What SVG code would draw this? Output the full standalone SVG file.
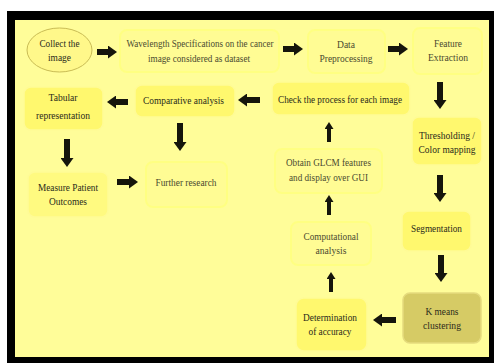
<svg xmlns="http://www.w3.org/2000/svg" width="494" height="363" viewBox="0 0 494 363">
<defs>
<style>
text{font-family:"Liberation Serif","Times New Roman",serif;font-size:11px;text-anchor:middle;fill:#2a2a1a;}
.pt{fill:#4a4a30;}
.bright{fill:#FFF86E;stroke:#FFFB96;stroke-width:1.5;}
.pale{fill:#FFFC94;stroke:#FFFF82;stroke-width:2;}
.km{fill:#D6CB65;stroke:#E6DC7E;stroke-width:1.5;}
.arr{stroke:#15150c;stroke-width:6;fill:none;}
.arrs{stroke:#15150c;stroke-width:4;fill:none;}
</style>
<marker id="ah" markerUnits="userSpaceOnUse" markerWidth="9" markerHeight="13" refX="0" refY="6.5" orient="auto">
<path d="M0,0 L9,6.5 L0,13 Z" fill="#15150c"/>
</marker>
<marker id="ahs" markerUnits="userSpaceOnUse" markerWidth="7" markerHeight="9" refX="0" refY="4.5" orient="auto">
<path d="M0,0 L7,4.5 L0,9 Z" fill="#15150c"/>
</marker>
</defs>
<rect x="0" y="0" width="494" height="363" fill="#ffffff"/>
<rect x="7" y="11" width="487" height="352" fill="#000000"/>
<rect x="15" y="20" width="474" height="337" fill="#FFFD99"/>

<g id="n-collect">
<ellipse cx="59.5" cy="50" rx="32.5" ry="22" fill="#FFF88A" stroke="#C9BC55" stroke-width="1"/>
<text x="59.5" y="47" textLength="40" lengthAdjust="spacingAndGlyphs">Collect the</text>
<text x="59.5" y="61" textLength="23" lengthAdjust="spacingAndGlyphs">image</text>
</g>
<g id="n-wavelength">
<rect class="pale" x="120" y="30" width="159" height="42" rx="7"/>
<text class="pt" x="200" y="47" textLength="147" lengthAdjust="spacingAndGlyphs">Wavelength Specifications on the cancer</text>
<text class="pt" x="199" y="62" textLength="102" lengthAdjust="spacingAndGlyphs">image considered as dataset</text>
</g>
<g id="n-preproc">
<rect class="pale" x="308" y="30" width="77" height="43" rx="7"/>
<text class="pt" x="346" y="48" textLength="18" lengthAdjust="spacingAndGlyphs">Data</text>
<text class="pt" x="346" y="62" textLength="53" lengthAdjust="spacingAndGlyphs">Preprocessing</text>
</g>
<g id="n-feature">
<rect class="pale" x="413" y="28" width="69" height="46" rx="7"/>
<text class="pt" x="448" y="47" textLength="28" lengthAdjust="spacingAndGlyphs">Feature</text>
<text class="pt" x="448" y="61" textLength="40" lengthAdjust="spacingAndGlyphs">Extraction</text>
</g>
<g id="n-threshold">
<rect class="bright" x="412" y="117" width="70" height="48" rx="7"/>
<text x="447" y="139" textLength="56" lengthAdjust="spacingAndGlyphs">Thresholding  /</text>
<text x="447" y="153" textLength="57" lengthAdjust="spacingAndGlyphs">Color mapping</text>
</g>
<g id="n-seg">
<rect class="bright" x="402" y="211" width="69" height="40" rx="7"/>
<text x="436.5" y="232" textLength="51" lengthAdjust="spacingAndGlyphs">Segmentation</text>
</g>
<g id="n-kmeans">
<rect class="km" x="403" y="293" width="78" height="50" rx="7"/>
<text x="442" y="315" textLength="33" lengthAdjust="spacingAndGlyphs">K means</text>
<text x="442" y="329" textLength="38" lengthAdjust="spacingAndGlyphs">clustering</text>
</g>
<g id="n-accuracy">
<rect class="bright" x="296" y="298" width="71" height="53" rx="8"/>
<text x="330" y="321" textLength="54" lengthAdjust="spacingAndGlyphs">Determination</text>
<text x="330" y="335" textLength="43" lengthAdjust="spacingAndGlyphs">of accuracy</text>
</g>
<g id="n-comp">
<rect class="pale" x="291" y="222" width="80" height="43" rx="7"/>
<text class="pt" x="331" y="240" textLength="55" lengthAdjust="spacingAndGlyphs">Computational</text>
<text class="pt" x="331" y="254" textLength="31" lengthAdjust="spacingAndGlyphs">analysis</text>
</g>
<g id="n-glcm">
<rect class="pale" x="275" y="149" width="107" height="44" rx="7"/>
<text class="pt" x="328.5" y="166" textLength="85" lengthAdjust="spacingAndGlyphs">Obtain GLCM features</text>
<text class="pt" x="328.5" y="181" textLength="79" lengthAdjust="spacingAndGlyphs">and display over GUI</text>
</g>
<g id="n-check">
<rect class="bright" x="272" y="82" width="138" height="33" rx="7"/>
<text x="340" y="103" textLength="124" lengthAdjust="spacingAndGlyphs">Check the process for each image</text>
</g>
<g id="n-compare">
<rect class="bright" x="135" y="85" width="100" height="32" rx="7"/>
<text x="183.5" y="104" textLength="81" lengthAdjust="spacingAndGlyphs">Comparative analysis</text>
</g>
<g id="n-tabular">
<rect class="bright" x="24" y="87" width="79" height="43" rx="7"/>
<text x="63" y="101" textLength="29" lengthAdjust="spacingAndGlyphs">Tabular</text>
<text x="63" y="119" textLength="54" lengthAdjust="spacingAndGlyphs">representation</text>
</g>
<g id="n-measure">
<rect class="bright" x="28" y="172" width="80" height="45" rx="7" style="fill:#FFFA80"/>
<text x="68" y="191" textLength="60" lengthAdjust="spacingAndGlyphs">Measure Patient</text>
<text x="68" y="205" textLength="38" lengthAdjust="spacingAndGlyphs">Outcomes</text>
</g>
<g id="n-further">
<rect class="pale" x="146" y="162" width="81" height="45" rx="7"/>
<text class="pt" x="186" y="186" textLength="61" lengthAdjust="spacingAndGlyphs">Further research</text>
</g>

<g id="connectors">
<line class="arr" x1="97" y1="52" x2="108" y2="52" marker-end="url(#ah)"/>
<line class="arr" x1="283" y1="49" x2="294" y2="49" marker-end="url(#ah)"/>
<line class="arr" x1="388" y1="49" x2="399" y2="49" marker-end="url(#ah)"/>
<line class="arr" x1="440" y1="82" x2="440" y2="100" marker-end="url(#ah)"/>
<line class="arr" x1="440" y1="175" x2="440" y2="193" marker-end="url(#ah)"/>
<line class="arr" x1="441" y1="255" x2="441" y2="273" marker-end="url(#ah)"/>
<line class="arr" x1="396" y1="320" x2="382" y2="320" marker-end="url(#ah)"/>
<line class="arrs" x1="331" y1="292" x2="331" y2="279" marker-end="url(#ahs)"/>
<line class="arrs" x1="329" y1="215" x2="329" y2="202" marker-end="url(#ahs)"/>
<line class="arrs" x1="329" y1="142" x2="329" y2="129" marker-end="url(#ahs)"/>
<line class="arr" x1="260" y1="100" x2="247" y2="100" marker-end="url(#ah)"/>
<line class="arr" x1="128" y1="102" x2="116" y2="102" marker-end="url(#ah)"/>
<line class="arr" x1="67" y1="139" x2="67" y2="158" marker-end="url(#ah)"/>
<line class="arr" x1="180" y1="123" x2="180" y2="142" marker-end="url(#ah)"/>
<line class="arr" x1="117" y1="182" x2="129" y2="182" marker-end="url(#ah)"/>
</g>
</svg>
